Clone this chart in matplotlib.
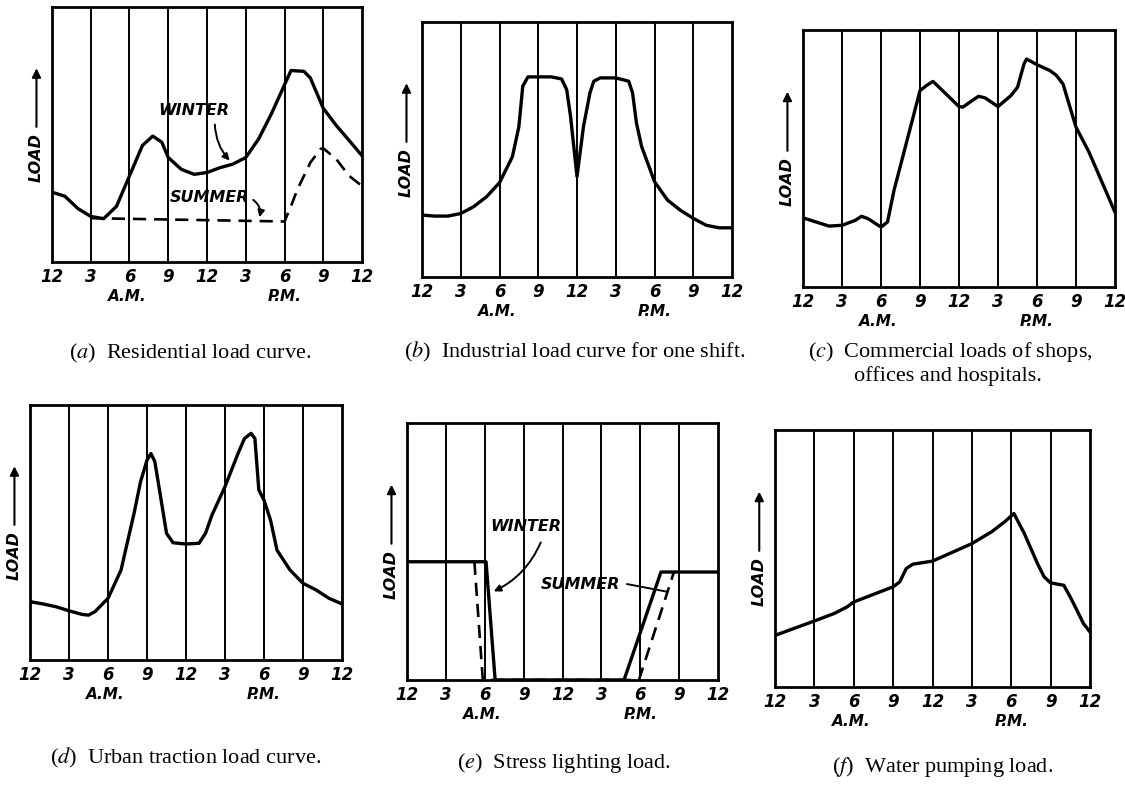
import numpy as np
import matplotlib.pyplot as plt
from matplotlib.transforms import blended_transform_factory

plt.rcParams['mathtext.fontset'] = 'stix'

# hour of day (0 = midnight) and load in percent of frame height
hours_a_winter = [0, 1, 2, 3, 4, 5, 6, 7, 7.8, 8.5, 9, 10, 11, 12, 13, 14, 15, 16, 17, 18,
                  18.5, 19.5, 20, 21, 22, 23, 24]
load_a_winter = [27.4, 25.8, 21, 17.9, 17, 21.9, 33.8, 45.7, 49.4, 47, 41, 36.4, 34.4, 35.1,
                 37, 38.4, 41, 48.3, 58.3, 69.5, 75.1, 74.8, 72.2, 60.3, 53.6, 47.7, 41.7]
hours_a_summer = [3, 18, 18.5, 19, 20, 20.8, 21, 22, 23, 24]
load_a_summer = [17.2, 15.9, 21.9, 28.5, 39, 44.4, 44.6, 40.4, 33.8, 29.8]

hours_b = [0, 1, 2, 3, 4, 5, 6, 7, 7.5, 7.8, 8.2, 9, 10, 10.8, 11.2, 11.5, 12, 12.5, 13, 13.3,
           13.8, 15, 16, 16.3, 16.6, 17, 18, 19, 20, 21, 22, 23, 24]
load_b = [24.3, 23.9, 23.9, 24.9, 27.6, 31.5, 37, 47.2, 59, 74.8, 78.5, 78.5, 78.5, 77.7, 73.5,
          63, 39.4, 59, 72.2, 76.8, 78.1, 78.1, 76.8, 72.2, 60.4, 51.2, 37.4, 30.2, 26.2, 23,
          20.3, 19.3, 19.3]

hours_c = [0, 1, 2, 3, 4, 4.5, 5, 6, 6.5, 7, 8, 9, 9.5, 10, 11, 12, 12.3, 13, 13.5, 14, 15, 16,
           16.5, 17, 17.2, 18, 19, 19.5, 20, 21, 22, 23, 24]
load_c = [26.9, 25.3, 23.7, 24, 25.9, 27.5, 26.6, 23.3, 25.3, 37.6, 57, 76.4, 78.4, 80, 75.1,
          70.2, 70, 72.5, 74.2, 73.6, 70.2, 74.5, 77.7, 86.8, 88.7, 86.5, 84.2, 82.3, 79, 62.2,
          52.5, 40.8, 29.1]

hours_d = [0, 1, 2, 3, 4, 4.5, 5, 6, 7, 8, 8.5, 9, 9.3, 9.6, 10, 10.5, 11, 12, 13, 13.5, 14, 15,
           16, 16.5, 17, 17.3, 17.6, 18, 18.5, 19, 20, 21, 22, 23, 24]
load_d = [22.9, 22, 20.9, 19.3, 17.9, 17.6, 19, 24.2, 35.3, 57.5, 69.9, 78.4, 81, 77.8, 65.4,
          49.7, 46, 45.5, 45.8, 49.7, 56.9, 68, 81, 86.9, 88.9, 86.9, 66.7, 62.7, 54.9, 43.1,
          35.3, 30.1, 27.5, 24.2, 22]

hours_e_winter = [0, 6.1, 6.8, 16.75, 19.6, 24]
load_e_winter = [46, 46, 0, 0, 42, 42]
hours_e_summer = [5.2, 5.85, 17.9, 20.6]
load_e_summer = [46, 0, 0, 42]

hours_f = [0, 3, 4.5, 5.5, 6, 9, 9.5, 10, 10.5, 12, 15, 16.5, 17.5, 18.2, 19, 20, 20.5, 21, 22,
           22.5, 23, 23.5, 24]
load_f = [20.1, 25.7, 28.6, 31.2, 33.1, 39, 40.9, 46.1, 47.8, 49, 55.8, 60.4, 64.3, 67.5, 59.7,
          48, 42.9, 40.5, 39.6, 35, 29.9, 24.7, 21.4]

tick_hours = [0, 3, 6, 9, 12, 15, 18, 21, 24]
tick_labels = ['12', '3', '6', '9', '12', '3', '6', '9', '12']

hand = dict(fontweight='bold', fontstyle='italic', family='DejaVu Sans')


def setup_panel(ax):
    ax.set_xlim(0, 24)
    ax.set_ylim(0, 100)
    for h in tick_hours[1:-1]:
        ax.axvline(h, color='black', lw=1.4, zorder=1)
    for s in ax.spines.values():
        s.set_linewidth(2)
    ax.set_yticks([])
    ax.set_xticks(tick_hours)
    ax.set_xticklabels(tick_labels, fontsize=12, **hand)
    ax.tick_params(axis='x', length=0, pad=4)
    tr = blended_transform_factory(ax.transData, ax.transAxes)
    ax.text(5.8, -0.135, 'A.M.', transform=tr, ha='center', va='center', fontsize=11, **hand)
    ax.text(18, -0.135, 'P.M.', transform=tr, ha='center', va='center', fontsize=11, **hand)
    ax.text(-0.05, 0.41, 'LOAD', transform=ax.transAxes, rotation=90, ha='center',
            va='center', fontsize=11.5, **hand)
    ax.annotate('', xy=(-0.05, 0.76), xytext=(-0.05, 0.53), xycoords='axes fraction',
                arrowprops=dict(arrowstyle='-|>', lw=1.5, color='black',
                                mutation_scale=13, shrinkA=0, shrinkB=0),
                annotation_clip=False)


fig = plt.figure(figsize=(11.25, 7.85), dpi=100)

ax_a = fig.add_axes([0.0462, 0.6662, 0.2756, 0.3248])
ax_b = fig.add_axes([0.3751, 0.6471, 0.2756, 0.3248])
ax_c = fig.add_axes([0.7138, 0.6344, 0.2773, 0.3274])
ax_d = fig.add_axes([0.0267, 0.1592, 0.2773, 0.3248])
ax_e = fig.add_axes([0.3618, 0.1338, 0.2764, 0.3274])
ax_f = fig.add_axes([0.6889, 0.1248, 0.2800, 0.3274])

line = dict(color='black', lw=2.4, solid_joinstyle='round', solid_capstyle='round', zorder=3)
dash = dict(color='black', lw=1.9, ls=(0, (5, 3)), zorder=3)

for ax in [ax_a, ax_b, ax_c, ax_d, ax_e, ax_f]:
    setup_panel(ax)

# (a) residential
ax_a.plot(hours_a_winter, load_a_winter, **line)
ax_a.plot(hours_a_summer, load_a_summer, **dash)
ax_a.text(11, 59.5, 'WINTER', ha='center', va='center', fontsize=11.5, **hand)
ax_a.annotate('', xy=(13.9, 39), xytext=(12.6, 55),
              arrowprops=dict(arrowstyle='-|>', lw=1.4, color='black',
                              connectionstyle='arc3,rad=0.2'))
ax_a.text(12.2, 25.2, 'SUMMER', ha='center', va='center', fontsize=11.5, **hand)
ax_a.annotate('', xy=(16, 16.5), xytext=(15.4, 25),
              arrowprops=dict(arrowstyle='-|>', lw=1.4, color='black',
                              connectionstyle='arc3,rad=-0.4'))

# (b) industrial
ax_b.plot(hours_b, load_b, **line)

# (c) commercial
ax_c.plot(hours_c, load_c, **line)

# (d) urban traction
ax_d.plot(hours_d, load_d, **line)

# (e) street lighting
ax_e.plot(hours_e_winter, load_e_winter, **line)
ax_e.plot(hours_e_summer, load_e_summer, **dash)
ax_e.text(6.4, 59.7, 'WINTER', ha='left', va='center', fontsize=11.5, **hand)
ax_e.annotate('', xy=(6.5, 34), xytext=(10.4, 54.5),
              arrowprops=dict(arrowstyle='-|>', lw=1.4, color='black',
                              connectionstyle='arc3,rad=-0.2'))
ax_e.text(13.4, 37, 'SUMMER', ha='center', va='center', fontsize=11.5, **hand)
ax_e.plot([17, 20], [37.3, 34.4], color='black', lw=1.4, zorder=3)

# (f) water pumping
ax_f.plot(hours_f, load_f, **line)

cap = dict(ha='center', va='center', fontsize=16, family='Liberation Serif')
fig.text(190 / 1125, 1 - 353 / 785, r'($\mathit{a}$)  Residential load curve.', **cap)
fig.text(575 / 1125, 1 - 352 / 785, r'($\mathit{b}$)  Industrial load curve for one shift.', **cap)
fig.text(950 / 1125, 1 - 352 / 785, r'($\mathit{c}$)  Commercial loads of shops,', **cap)
fig.text(948 / 1125, 1 - 376 / 785, 'offices and hospitals.', **cap)
fig.text(186 / 1125, 1 - 758 / 785, r'($\mathit{d}$)  Urban traction load curve.', **cap)
fig.text(564 / 1125, 1 - 763 / 785, r'($\mathit{e}$)  Stress lighting load.', **cap)
fig.text(943 / 1125, 1 - 767 / 785, r'($\mathit{f}$)  Water pumping load.', **cap)

fig.savefig('out.png', dpi=100)
